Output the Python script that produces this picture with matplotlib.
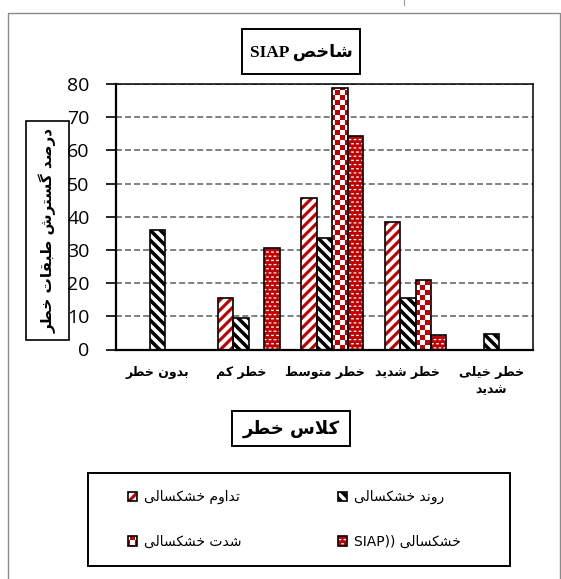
import warnings
warnings.filterwarnings("ignore")
import numpy as np
import matplotlib
matplotlib.use("Agg")
import matplotlib.pyplot as plt
import matplotlib.hatch as mhatch
from matplotlib.path import Path
from matplotlib.patches import Rectangle
from matplotlib.lines import Line2D
from matplotlib.legend_handler import HandlerTuple

# ---------------- data ----------------
categories = ["بدون خطر", "خطر کم", "خطر متوسط", "خطر شدید", "خطر خیلی\nشدید"]
persistence = [0, 15.5, 45.7, 38.4, 0]     # تداوم خشکسالی
trend = [36.0, 9.6, 33.6, 15.4, 4.6]        # روند خشکسالی
severity = [0, 0, 78.9, 20.9, 0]            # شدت خشکسالی
siap = [0, 30.7, 64.3, 4.5, 0]              # خشکسالی (SIAP)
y_ticks = [0, 10, 20, 30, 40, 50, 60, 70, 80]
title_text = ("شاخص", "SIAP")
y_label = "درصد گسترش طبقات خطر"
x_label = "کلاس خطر"
legend_labels = ["تداوم خشکسالی", "روند خشکسالی", "شدت خشکسالی", "خشکسالی"]

# ---------------- minimal Arabic/Persian shaping ----------------
FORMS = {
    'ا': ('\uFE8D', '\uFE8E'), 'ب': ('\uFE8F', '\uFE90', '\uFE91', '\uFE92'),
    'ت': ('\uFE95', '\uFE96', '\uFE97', '\uFE98'), 'ج': ('\uFE9D', '\uFE9E', '\uFE9F', '\uFEA0'),
    'خ': ('\uFEA5', '\uFEA6', '\uFEA7', '\uFEA8'), 'د': ('\uFEA9', '\uFEAA'),
    'ر': ('\uFEAD', '\uFEAE'), 'س': ('\uFEB1', '\uFEB2', '\uFEB3', '\uFEB4'),
    'ش': ('\uFEB5', '\uFEB6', '\uFEB7', '\uFEB8'), 'ص': ('\uFEB9', '\uFEBA', '\uFEBB', '\uFEBC'),
    'ط': ('\uFEC1', '\uFEC2', '\uFEC3', '\uFEC4'), 'ف': ('\uFED1', '\uFED2', '\uFED3', '\uFED4'),
    'ق': ('\uFED5', '\uFED6', '\uFED7', '\uFED8'), 'ل': ('\uFEDD', '\uFEDE', '\uFEDF', '\uFEE0'),
    'م': ('\uFEE1', '\uFEE2', '\uFEE3', '\uFEE4'), 'ن': ('\uFEE5', '\uFEE6', '\uFEE7', '\uFEE8'),
    'و': ('\uFEED', '\uFEEE'), 'ه': ('\uFEE9', '\uFEEA', '\uFEEB', '\uFEEC'),
    'ک': ('\uFB8E', '\uFB8F', '\uFB90', '\uFB91'), 'گ': ('\uFB92', '\uFB93', '\uFB94', '\uFB95'),
    'ی': ('\uFBFC', '\uFBFD', '\uFBFE', '\uFBFF'),
}


def _shape(s):
    res = []
    i, n = 0, len(s)
    while i < n:
        c = s[i]
        prev = s[i - 1] if i > 0 else None
        jp = prev is not None and prev in FORMS and len(FORMS[prev]) == 4
        if c == 'ل' and i + 1 < n and s[i + 1] == 'ا':
            res.append('\uFEFC' if jp else '\uFEFB')
            i += 2
            continue
        if c not in FORMS:
            res.append(c)
            i += 1
            continue
        nxt = s[i + 1] if i + 1 < n else None
        jn = len(FORMS[c]) == 4 and nxt is not None and nxt in FORMS
        f = FORMS[c]
        if jp and jn:
            g = f[3]
        elif jp:
            g = f[1]
        elif jn:
            g = f[2]
        else:
            g = f[0]
        res.append(g)
        i += 1
    return ''.join(res)


def ar(s):
    return '\n'.join(_shape(line)[::-1] for line in s.split('\n'))


# ---------------- custom fill patterns (filled tiles) ----------------
class _Poly(mhatch.HatchPatternBase):
    char = None

    def __init__(self, hatch, density):
        self.polys = self.make() if (hatch and self.char in hatch) else []
        self.num_vertices = 5 * len(self.polys)

    def set_vertices_and_codes(self, vertices, codes):
        for k, p in enumerate(self.polys):
            vertices[5 * k:5 * k + 4] = p
            vertices[5 * k + 4] = p[0]
            codes[5 * k] = Path.MOVETO
            codes[5 * k + 1:5 * k + 4] = Path.LINETO
            codes[5 * k + 4] = Path.CLOSEPOLY


class _NE(_Poly):
    char = '/'

    def make(self):
        n, h = 10, 0.022
        out = []
        for k in range(-n, n + 1):
            c = k / n
            out.append([(-0.1, -0.1 + c - h), (1.1, 1.1 + c - h), (1.1, 1.1 + c + h), (-0.1, -0.1 + c + h)])
        return out


class _NW(_Poly):
    char = '\\'

    def make(self):
        n, h = 10, 0.025
        out = []
        for k in range(0, 2 * n + 1):
            c = k / n
            out.append([(-0.1, 0.1 + c - h), (1.1, -1.1 + c - h), (1.1, -1.1 + c + h), (-0.1, 0.1 + c + h)])
        return out


class _Checker(_Poly):
    char = '+'

    def make(self):
        m = 20
        out = []
        for i in range(m):
            for j in range(m):
                if (i + j) % 2 == 0:
                    out.append([(i / m, j / m), ((i + 1) / m, j / m), ((i + 1) / m, (j + 1) / m), (i / m, (j + 1) / m)])
        return out


class _Dash(_Poly):
    char = '.'

    def make(self):
        cols, rows = 20, 24
        dw, dh = 0.028, 0.013
        out = []
        for r in range(rows):
            y = (r + 0.5) / rows
            off = 0.5 / cols if r % 2 else 0.0
            for cidx in range(cols + 1):
                x = cidx / cols + off
                out.append([(x - dw / 2, y - dh / 2), (x + dw / 2, y - dh / 2), (x + dw / 2, y + dh / 2), (x - dw / 2, y + dh / 2)])
        return out


mhatch._hatch_types = [_NE, _NW, _Checker, _Dash]

plt.rcParams['hatch.linewidth'] = 0.0
plt.rcParams['lines.scale_dashes'] = False

RED = '#C00000'

W, H = 561, 579
fig = plt.figure(figsize=(W / 100, H / 100), dpi=100)


def fx(px):
    return px / W


def fy(py):
    return 1 - py / H


ax_l, ax_r, ax_t, ax_b = 116, 533, 84, 349.5
ax = fig.add_axes([fx(ax_l), fy(ax_b), fx(ax_r) - fx(ax_l), fy(ax_t) - fy(ax_b)])

x = np.arange(len(categories))
bw = 0.1845
series = [persistence, trend, severity, siap]
styles = [
    dict(face='white', hcol=RED, hatch='/'),
    dict(face='white', hcol='black', hatch='\\'),
    dict(face='white', hcol=RED, hatch='+'),
    dict(face=RED, hcol='white', hatch='.'),
]
handles = []
for i, (vals, st) in enumerate(zip(series, styles)):
    pos = x + (i - 1.5) * bw
    b1 = ax.bar(pos, vals, bw, align='edge', facecolor=st['face'], edgecolor=st['hcol'],
                linewidth=0, hatch=st['hatch'], zorder=2)
    b2 = ax.bar(pos, vals, bw, align='edge', fill=False, edgecolor='black', linewidth=1.2, zorder=2.1)
    handles.append((b1[0], b2[0]))

ax.set_xlim(-0.5, len(categories) - 0.5)
ax.set_ylim(0, 80)
ax.set_yticks(y_ticks)
ax.set_yticklabels([str(v) for v in y_ticks], fontsize=14, family='Open Sans')
ax.tick_params(axis='y', length=7, width=1.2, pad=12, direction='out', colors='black')
ax.set_xticks(x)
ax.set_xticklabels([ar(c) for c in categories], fontsize=9, fontweight='bold',
                   family='DejaVu Sans', linespacing=1.4)
ax.tick_params(axis='x', length=0, pad=12)
ax.set_axisbelow(True)
ax.yaxis.grid(True, color='#808080', linewidth=1.4, linestyle=(0, (4.3, 2.2)))
for s in ['left', 'bottom']:
    ax.spines[s].set_linewidth(1.6)
for s in ['top', 'right']:
    ax.spines[s].set_linewidth(1.1)
for s in ax.spines.values():
    s.set_color('black')

# outer frame
fig.patches.append(Rectangle((fx(8), fy(581)), fx(560) - fx(8), fy(12.5) - fy(581),
                             transform=fig.transFigure, fill=False, edgecolor='#8a8a8a', linewidth=1.0))
# small stray mark at the very top of the page
fig.add_artist(Line2D([fx(404), fx(404)], [fy(0), fy(5)], transform=fig.transFigure,
                      color='#999999', linewidth=0.8))

# title box
fig.patches.append(Rectangle((fx(242), fy(74)), fx(360) - fx(242), fy(29) - fy(74),
                             transform=fig.transFigure, fill=False, edgecolor='black', linewidth=1.4))
fig.text(fx(301), fy(52), title_text[1] + ' ' + ar(title_text[0]), ha='center', va='center',
         fontsize=12.5, fontweight='bold', family=['Liberation Serif', 'DejaVu Sans'])

# y label box
fig.patches.append(Rectangle((fx(26), fy(340)), fx(69) - fx(26), fy(121) - fy(340),
                             transform=fig.transFigure, fill=False, edgecolor='black', linewidth=1.2))
fig.text(fx(47.5), fy(230.5), ar(y_label), rotation=90, ha='center', va='center',
         fontsize=11, fontweight='bold', family='DejaVu Sans')

# x label box
fig.patches.append(Rectangle((fx(232), fy(446)), fx(350) - fx(232), fy(411) - fy(446),
                             transform=fig.transFigure, fill=False, edgecolor='black', linewidth=1.4))
fig.text(fx(291), fy(428.5), ar(x_label), ha='center', va='center',
         fontsize=13, fontweight='bold', family='DejaVu Sans')

# legend frame
fig.patches.append(Rectangle((fx(88), fy(566)), fx(510) - fx(88), fy(473) - fy(566),
                             transform=fig.transFigure, fill=False, edgecolor='black', linewidth=1.4))

lab = [ar(legend_labels[0]), ar(legend_labels[1]), ar(legend_labels[2]),
       'SIAP)) ' + ar(legend_labels[3])]
common = dict(frameon=False, loc='center left', handlelength=0.65, handleheight=0.65,
              handletextpad=0.5, labelspacing=2.2, borderpad=0, borderaxespad=0,
              handler_map={tuple: HandlerTuple(ndivide=1, pad=0)}, prop={'family': 'DejaVu Sans', 'size': 10})
fig.legend([handles[0], handles[2]], [lab[0], lab[2]], bbox_to_anchor=(fx(128), fy(519.5)), **common)
fig.legend([handles[1], handles[3]], [lab[1], lab[3]], bbox_to_anchor=(fx(338), fy(519.5)), **common)

fig.savefig('out.png', dpi=100)
